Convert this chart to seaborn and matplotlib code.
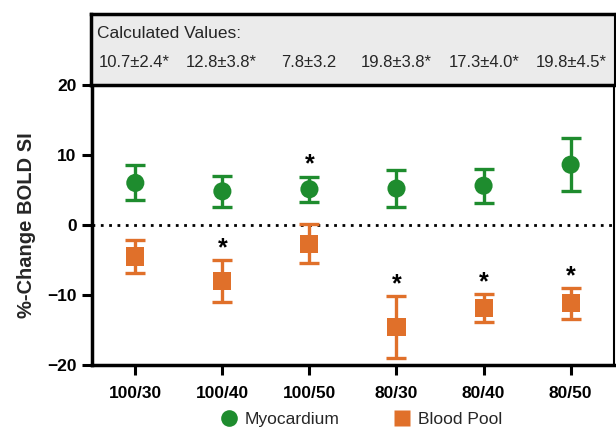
import matplotlib
matplotlib.use("Agg")
import matplotlib.pyplot as plt
import numpy as np
import pandas as pd
import seaborn as sns
from matplotlib.lines import Line2D

sns.set_theme(style="white")
plt.rcParams["font.family"] = ["Liberation Sans", "DejaVu Sans"]

# data
conditions = ["100/30", "100/40", "100/50", "80/30", "80/40", "80/50"]
myo_mean = [6.0, 4.8, 5.1, 5.2, 5.6, 8.6]
myo_err = [2.5, 2.2, 1.8, 2.7, 2.4, 3.8]
myo_sig = [False, False, True, False, False, False]
blood_mean = [-4.5, -8.0, -2.7, -14.6, -11.9, -11.2]
blood_err = [2.4, 3.0, 2.8, 4.4, 2.0, 2.2]
blood_sig = [False, True, False, True, True, True]
calc_values = ["10.7±2.4*", "12.8±3.8*", "7.8±3.2", "19.8±3.8*", "17.3±4.0*", "19.8±4.5*"]

GREEN = "#1e8c2e"
ORANGE = "#e0702a"

df = pd.DataFrame({
    "condition": conditions * 2,
    "mean": myo_mean + blood_mean,
    "err": myo_err + blood_err,
    "sig": myo_sig + blood_sig,
    "group": ["Myocardium"] * 6 + ["Blood Pool"] * 6,
})

fig = plt.figure(figsize=(6.16, 4.33), dpi=100)
ax = fig.add_axes([0.149, 0.157, 0.848, 0.647])
hdr = fig.add_axes([0.147, 0.804, 0.851, 0.164])

ax.axhline(0, color="black", lw=2, ls=(0, (1, 2.0)), zorder=1)

sns.scatterplot(data=df, x="condition", y="mean", hue="group", style="group",
                markers={"Myocardium": "o", "Blood Pool": "s"},
                palette={"Myocardium": GREEN, "Blood Pool": ORANGE},
                s=170, edgecolor="none", legend=False, ax=ax, zorder=3)

pos = np.arange(len(conditions))
for grp, color in [("Myocardium", GREEN), ("Blood Pool", ORANGE)]:
    d = df[df.group == grp]
    ax.errorbar(pos, d["mean"], yerr=d["err"], fmt="none", ecolor=color,
                elinewidth=2.4, capsize=7, capthick=2.4, zorder=2)
    for x, m, e, s in zip(pos, d["mean"], d["err"], d["sig"]):
        if s:
            ax.annotate("*", (x, m + e), xytext=(0, 0), textcoords="offset points",
                        ha="center", va="bottom", fontsize=18, fontweight="bold",
                        color="black")

ax.set_xlim(-0.5, 5.5)
ax.set_ylim(-20, 20)
ax.set_yticks([-20, -10, 0, 10, 20])
ax.set_yticklabels(["\u221220", "\u221210", "0", "10", "20"])
ax.set_xlabel("")
ax.set_ylabel("%-Change BOLD SI", fontsize=14.5, fontweight="bold", labelpad=8)
ax.tick_params(axis="both", direction="out", length=7, width=2.2, colors="black",
               labelsize=12.5, bottom=True, left=True)
ax.tick_params(axis="x", pad=8)
ax.tick_params(axis="y", pad=4)
for lab in ax.get_xticklabels() + ax.get_yticklabels():
    lab.set_fontweight("bold")
for side in ["left", "bottom"]:
    ax.spines[side].set_linewidth(2.5)
    ax.spines[side].set_color("black")
ax.spines["top"].set_visible(False)
ax.spines["right"].set_linewidth(1.5)
ax.spines["right"].set_color("black")

# header box with calculated values
hdr.set_facecolor("#ebebeb")
hdr.set_xlim(-0.5, 5.5)
hdr.set_ylim(0, 1)
hdr.set_xticks([])
hdr.set_yticks([])
for side, lw in [("left", 2.5), ("top", 2.5), ("bottom", 2.5), ("right", 1.5)]:
    hdr.spines[side].set_linewidth(lw)
    hdr.spines[side].set_color("black")
hdr.text(0.012, 0.72, "Calculated Values:", transform=hdr.transAxes,
         ha="left", va="center", fontsize=12.5)
for x, t in zip(pos, calc_values):
    hdr.text(x, 0.32, t, ha="center", va="center", fontsize=12)

handles = [
    Line2D([], [], marker="o", color="none", markerfacecolor=GREEN,
           markeredgecolor="none", markersize=12, label="Myocardium"),
    Line2D([], [], marker="s", color="none", markerfacecolor=ORANGE,
           markeredgecolor="none", markersize=11, label="Blood Pool"),
]
fig.legend(handles=handles, loc="center", bbox_to_anchor=(0.585, 0.032), ncol=2,
           frameon=False, fontsize=12.5, handletextpad=0.3, columnspacing=3.0,
           handlelength=1.2)

fig.savefig("out.png", dpi=100)
